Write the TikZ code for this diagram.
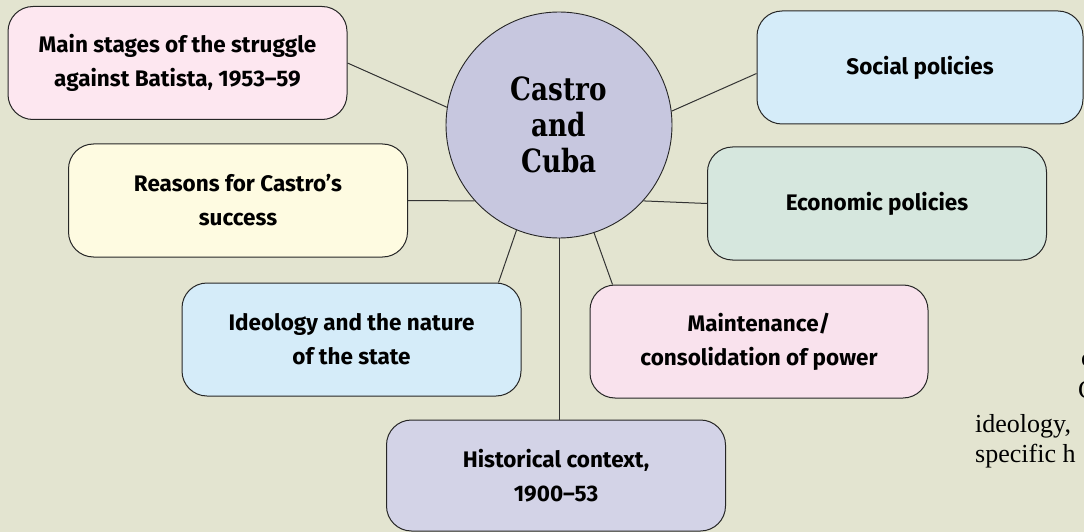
\documentclass[tikz,border=0pt]{standalone}
\usepackage{fontspec}
\setmainfont{Fira Sans}
\newfontfamily\hubfont{DejaVu Serif}[FakeStretch=0.82]
\newfontfamily\pagefont{Liberation Serif}
\definecolor{pagebg}{HTML}{E3E4D0}
\definecolor{pinkfill}{HTML}{FDE7F0}
\definecolor{creamfill}{HTML}{FEFBE1}
\definecolor{skyfill}{HTML}{D5ECF9}
\definecolor{sagefill}{HTML}{D6E7DE}
\definecolor{blushfill}{HTML}{F9E2ED}
\definecolor{lilacfill}{HTML}{D3D3E7}
\definecolor{hubfill}{HTML}{C7C7DF}
\tikzset{%
topic box/.style={
    rectangle, draw=black!85, line width=1pt,
    rounded corners=25pt,
    minimum width=339pt, minimum height=113pt,
    anchor=center,
    align=center,
    inner sep=0pt,
    font=\fontsize{22.5}{34}\selectfont\bfseries
  },
hub circle/.style={
    circle, draw=black!85, line width=0.9pt, fill=hubfill,
    minimum size=226pt, inner sep=0pt,
    align=center,
    font=\fontsize{32}{36}\selectfont\hubfont\bfseries
  },
spoke/.style={draw=black!80, line width=1pt},
fragment/.style={inner sep=0pt, anchor=base west,
    font=\fontsize{26}{30}\selectfont\pagefont}
}
\begin{document}
\begin{tikzpicture}[x=1pt,y=-1pt]

\useasboundingbox (0,0) rectangle (1084,532);
\fill[pagebg] (0,0) rectangle (1084,532);
\clip (0,0) rectangle (1084,532);

\node[hub circle] (hub) at (559,125) {Castro\\and\\Cuba};

\node[topic box, fill=pinkfill] (stages) at (177.5,63) {Main stages of the struggle\\against Batista, 1953–59};
\node[topic box, fill=creamfill] (reasons) at (238,200.5) {Reasons for Castro’s\\success};
\node[topic box, fill=skyfill] (ideology) at (351.5,339.5) {Ideology and the nature\\of the state};
\node[topic box, fill=lilacfill, minimum height=111pt] (history) at (556,475.5) {Historical context,\\1900–53};
\node[topic box, fill=skyfill, minimum width=326pt] (social) at (920,67.5) {Social policies};
\node[topic box, fill=sagefill] (economic) at (877,203.5) {Economic policies};
\node[topic box, fill=blushfill, minimum width=338pt] (upkeep) at (759,341.5) {Maintenance/\\consolidation of power};

\draw[spoke] (stages.east) -- (hub.171);
\draw[spoke] (reasons.east) -- (hub.222);
\draw[spoke] ([xshift=-23pt]ideology.north east) -- (hub.248);
\draw[spoke] (hub.south) -- (hub.south |- history.north);
\draw[spoke] ([yshift=-6pt]social.west) -- (hub.7);
\draw[spoke] (economic.west) -- (hub.318);
\draw[spoke] ([xshift=23pt]upkeep.north west) -- (hub.288);

\node[fragment] (frag1) at (1081,366) {c};
\node[fragment] (frag2) at (1078,398) {C};
\node[fragment] (frag3) at (975,432) {ideology,};
\node[fragment] (frag4) at (975,462) {specific h};
\end{tikzpicture}
\end{document}
